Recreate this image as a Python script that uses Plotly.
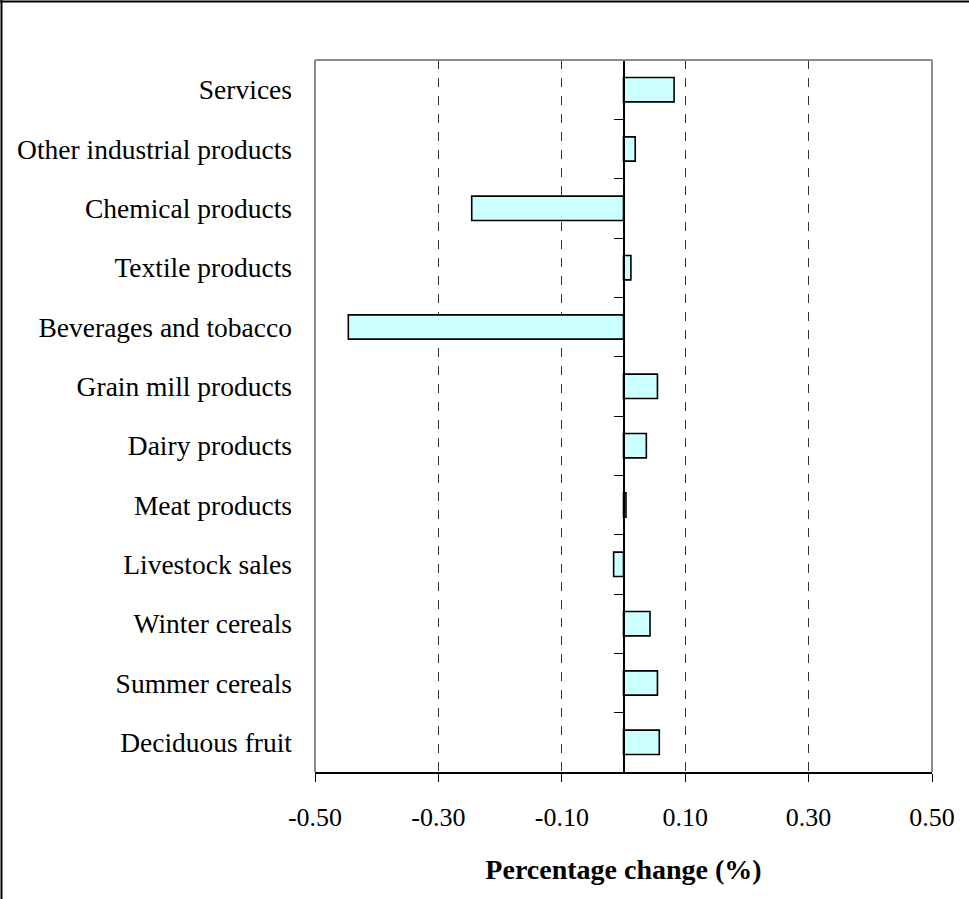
import plotly.graph_objects as go

categories = ["Deciduous fruit", "Summer cereals", "Winter cereals", "Livestock sales",
              "Meat products", "Dairy products", "Grain mill products", "Beverages and tobacco",
              "Textile products", "Chemical products", "Other industrial products", "Services"]
values = [0.058, 0.055, 0.043, -0.016, 0.004, 0.037, 0.055, -0.446, 0.012, -0.246, 0.019, 0.082]
x_ticks = [-0.5, -0.3, -0.1, 0.1, 0.3, 0.5]
x_tick_labels = ["-0.50", "-0.30", "-0.10", "0.10", "0.30", "0.50"]
x_title = "Percentage change (%)"

W, H = 969, 899
L, R, T, B = 315, 37, 60, 127
pw, ph = W - L - R, H - T - B
FONT = "Liberation Serif, Times New Roman, serif"

def px(x):
    return (x - L) / pw

def py(y):
    return (H - B - y) / ph

fig = go.Figure()
fig.add_trace(go.Bar(
    y=categories, x=values, orientation="h",
    marker=dict(color="#CCFFFF", line=dict(color="black", width=1.6)),
    width=0.41, showlegend=False, hoverinfo="x+y",
))
# invisible trace to carry the zero-crossing category axis
fig.add_trace(go.Scatter(x=[0, 0], y=[-0.5, len(categories) - 0.5], yaxis="y2",
                         mode="lines", line=dict(color="rgba(0,0,0,0)"),
                         showlegend=False, hoverinfo="skip"))

fig.update_layout(
    width=W, height=H,
    margin=dict(l=L, r=R, t=T, b=B, pad=0),
    paper_bgcolor="white", plot_bgcolor="white",
    font=dict(family=FONT, size=27, color="black"),
    xaxis=dict(
        range=[-0.5, 0.5], tickvals=x_ticks, ticktext=x_tick_labels,
        showgrid=True, gridcolor="#333333", griddash="dash", gridwidth=1,
        zeroline=False, showline=True, linecolor="black", linewidth=1.5,
        ticks="outside", ticklen=8, tickcolor="black", tickwidth=1,
        tickfont=dict(size=26), ticklabelstandoff=13,
        title=dict(text="<b>" + x_title + "</b>", font=dict(size=28), standoff=28),
        mirror=False,
    ),
    yaxis=dict(
        type="category", range=[-0.5, len(categories) - 0.5],
        showgrid=False, zeroline=False, showline=False, ticks="",
        tickfont=dict(size=27.5), ticklabelstandoff=22,
    ),
    yaxis2=dict(
        overlaying="y", anchor="free", position=0.5,
        range=[-0.5, len(categories) - 0.5],
        tickvals=[i + 0.5 for i in range(len(categories))],
        showticklabels=False, ticks="outside", ticklen=9, tickcolor="black", tickwidth=1,
        showline=True, linecolor="black", linewidth=1.5, showgrid=False, zeroline=False,
    ),
    shapes=[
        # plot area border (gray): left, top, right
        dict(type="line", xref="paper", yref="paper", x0=0, x1=0, y0=0, y1=1,
             line=dict(color="#8c8c8c", width=2)),
        dict(type="line", xref="paper", yref="paper", x0=0, x1=1, y0=1, y1=1,
             line=dict(color="#8c8c8c", width=2)),
        dict(type="line", xref="paper", yref="paper", x0=1, x1=1, y0=0, y1=1,
             line=dict(color="#8c8c8c", width=2)),
        # outer chart frame (left and top edges)
        dict(type="line", xref="paper", yref="paper", x0=px(1.5), x1=px(1.5), y0=py(H), y1=py(0),
             line=dict(color="black", width=2)),
        dict(type="line", xref="paper", yref="paper", x0=px(0), x1=px(W), y0=py(1.5), y1=py(1.5),
             line=dict(color="black", width=2)),
    ],
)

fig.write_html("out.html", config={"displayModeBar": False},
               post_script="document.body.style.margin='0';")
